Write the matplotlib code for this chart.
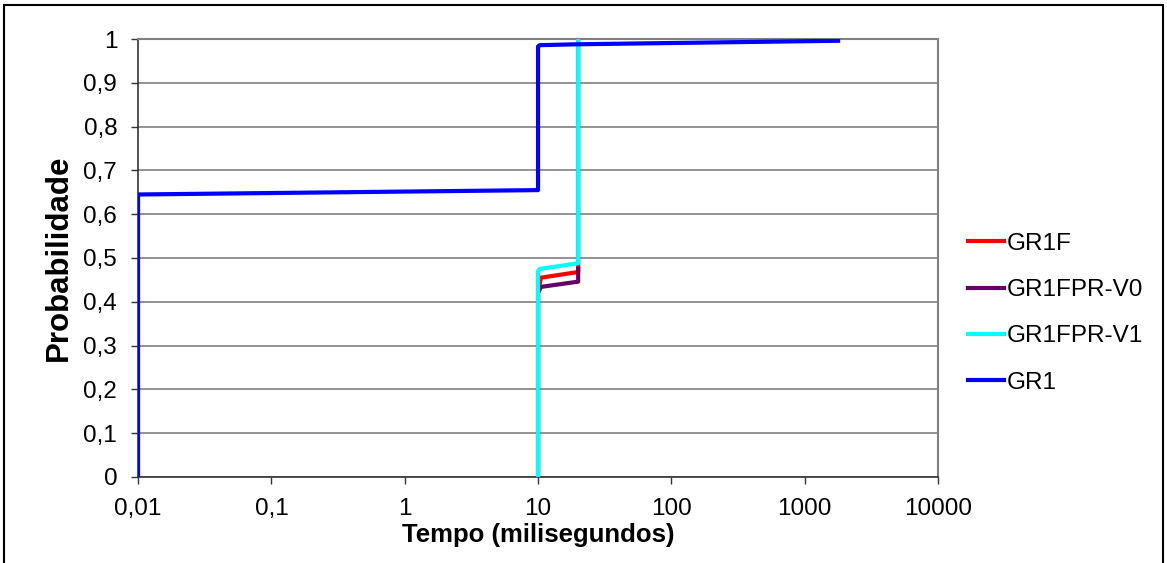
import matplotlib.pyplot as plt
from matplotlib.patches import Rectangle
from matplotlib.ticker import FixedLocator, NullLocator

plt.rcParams['font.family'] = ['Liberation Sans', 'DejaVu Sans']

# Step curves (tempo em ms, probabilidade acumulada)
gr1f_x = [10, 10, 10.5, 20, 20]
gr1f_y = [0, 0.42, 0.455, 0.468, 1.0]

gr1fpr_v0_x = [10, 10, 10.5, 20, 20]
gr1fpr_v0_y = [0, 0.42, 0.434, 0.446, 0.475]

gr1fpr_v1_x = [10, 10, 10.3, 20, 20]
gr1fpr_v1_y = [0, 0.47, 0.475, 0.488, 1.0]

gr1_x = [0.01, 0.01, 10, 10, 10.3, 20, 1780]
gr1_y = [0, 0.645, 0.655, 0.983, 0.986, 0.988, 0.996]

xticks = [0.01, 0.1, 1, 10, 100, 1000, 10000]
xtick_labels = ['0,01', '0,1', '1', '10', '100', '1000', '10000']
yticks = [0, 0.1, 0.2, 0.3, 0.4, 0.5, 0.6, 0.7, 0.8, 0.9, 1]
ytick_labels = ['0', '0,1', '0,2', '0,3', '0,4', '0,5', '0,6', '0,7', '0,8', '0,9', '1']

fig = plt.figure(figsize=(11.67, 5.63), dpi=100)
ax = fig.add_axes([0.1183, 0.1528, 0.6855, 0.7779])

ax.plot(gr1f_x, gr1f_y, color='#ff0000', lw=3, label='GR1F', zorder=3)
ax.plot(gr1fpr_v0_x, gr1fpr_v0_y, color='#660066', lw=3, label='GR1FPR-V0', zorder=3)
ax.plot(gr1fpr_v1_x, gr1fpr_v1_y, color='#00ffff', lw=3, label='GR1FPR-V1', zorder=4)
ax.plot(gr1_x, gr1_y, color='#0000ff', lw=3, label='GR1', zorder=5)

ax.set_xscale('log')
ax.set_xlim(0.01, 10000)
ax.set_ylim(0, 1)
ax.xaxis.set_major_locator(FixedLocator(xticks))
ax.xaxis.set_minor_locator(NullLocator())
ax.set_xticklabels(xtick_labels)
ax.set_yticks(yticks)
ax.set_yticklabels(ytick_labels)

# horizontal grid only
ax.grid(axis='y', color='#808080', lw=1.2)
ax.set_axisbelow(True)
for side in ['top', 'right']:
    ax.spines[side].set_color('#808080')
    ax.spines[side].set_linewidth(1.5)
for side in ['left', 'bottom']:
    ax.spines[side].set_color('#333333')
    ax.spines[side].set_linewidth(1.2)
ax.tick_params(axis='both', direction='out', length=5, width=1, labelsize=17.5,
               colors='#333333', labelcolor='black')
ax.tick_params(axis='x', pad=10)
ax.tick_params(axis='y', pad=10)

ax.set_xlabel('Tempo (milisegundos)', fontsize=18.5, fontweight='bold', labelpad=2)
ax.set_ylabel('Probabilidade', fontsize=22.5, fontweight='bold', labelpad=7)

ax.legend(loc='center left', bbox_to_anchor=(1.037, 0.374), frameon=False,
          fontsize=17.5, handlelength=1.5, handletextpad=0.12, labelspacing=1.0,
          borderpad=0, borderaxespad=0)

# outer chart border
fig.patches.append(Rectangle((0.0035, -0.01), 0.9935, 1.001, transform=fig.transFigure,
                             fill=False, edgecolor='black', lw=1.5))

fig.savefig('out.png', dpi=100)
